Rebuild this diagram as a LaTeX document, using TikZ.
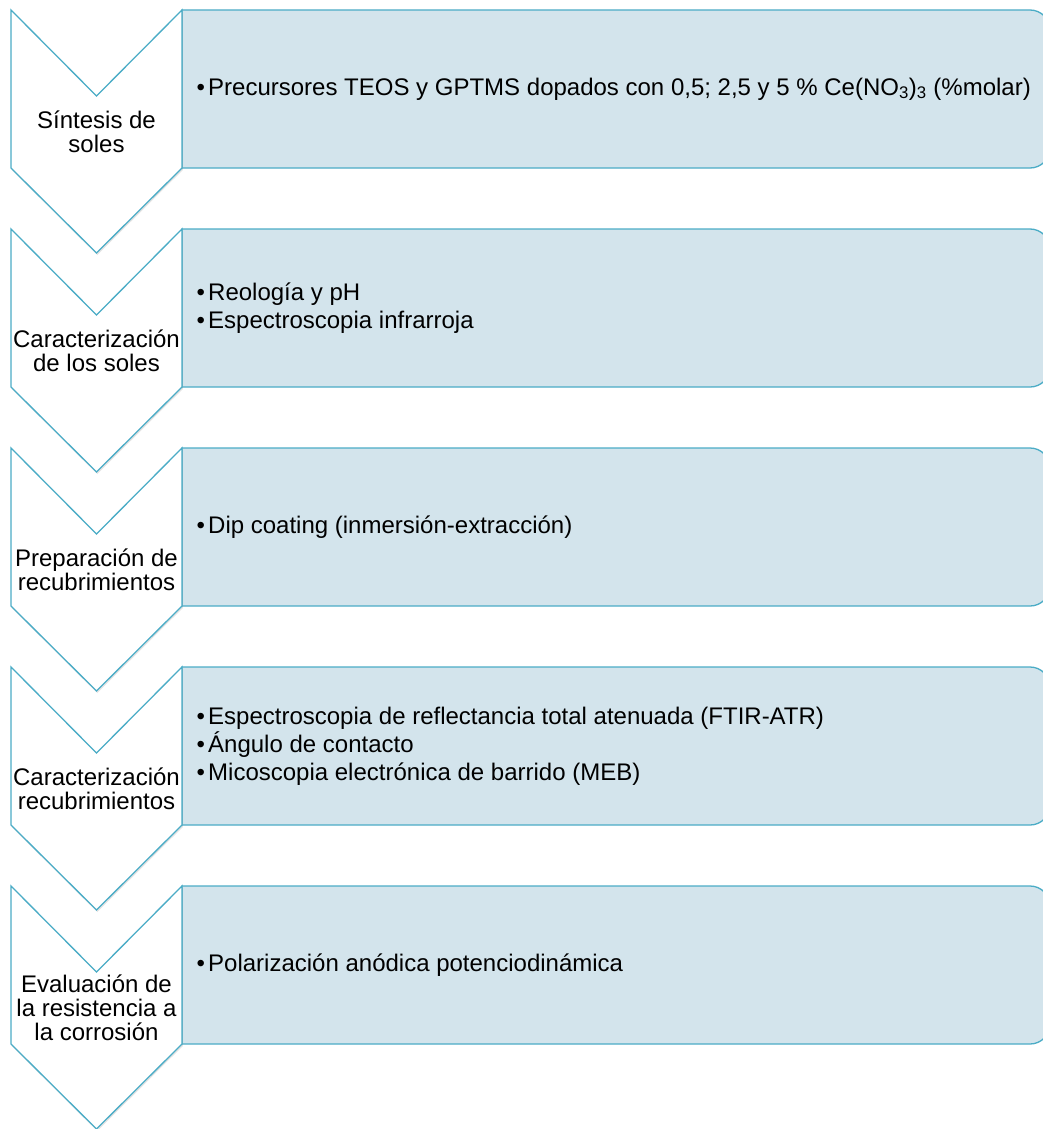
\documentclass[tikz,border=0pt]{standalone}
\usepackage{fontspec}
\setmainfont{Liberation Sans}
\usetikzlibrary{shadows}
\definecolor{edgeblue}{HTML}{4BACC6}
\definecolor{boxfill}{HTML}{D3E4EC}
\tikzset{
  chev/.style={draw=edgeblue, line width=1.3pt, fill=white, line join=miter,
    drop shadow={opacity=0.22, shadow xshift=0.8pt, shadow yshift=-2pt}},
  panel/.style={draw=edgeblue, line width=1.3pt, fill=boxfill},
  lab/.style={align=center, font=\fontsize{24}{24}\selectfont, inner sep=0pt},
  items/.style={align=left, anchor=west, font=\fontsize{24}{28}\selectfont, inner sep=0pt},
}
\newcommand{\bul}{\makebox[11.7pt][l]{•}}
\begin{document}
\begin{tikzpicture}[x=1pt,y=1pt]
\useasboundingbox (0,0) rectangle (1043,-1129);
\clip (0,0) rectangle (1043,-1129);
\foreach \t in {10,229,448,667,886}{
  \path[panel] (182,-\t) -- (1030,-\t) arc[start angle=90,end angle=0,radius=20]
     -- (1050,-\t-138) arc[start angle=0,end angle=-90,radius=20]
     -- (182,-\t-158) -- cycle;
  \path[chev] (11,-\t) -- (96.5,-\t-86) -- (182,-\t) -- (182,-\t-158)
     -- (96.5,-\t-243) -- (11,-\t-158) -- cycle;
}
\node[lab] (c1) at (96.5,-132) {Síntesis de\\soles};
\node[lab] (c2) at (96.5,-351) {Caracterización\\de los soles};
\node[lab] (c3) at (96.5,-570) {Preparación de\\recubrimientos};
\node[lab] (c4) at (96.5,-789) {Caracterización\\recubrimientos};
\node[lab] (c5) at (96.5,-1008) {Evaluación de\\la resistencia a\\la corrosión};
\node[items] (b1) at (196.3,-89) {\bul Precursores TEOS y GPTMS dopados con 0,5; 2,5 y 5 \% Ce(NO\textsubscript{3})\textsubscript{3} (\%molar)};
\node[items] (b2) at (196.3,-308) {\bul Reología y pH\\\bul Espectroscopia infrarroja};
\node[items] (b3) at (196.3,-527) {\bul Dip coating (inmersión-extracción)};
\node[items] (b4) at (196.3,-746) {\bul Espectroscopia de reflectancia total atenuada (FTIR-ATR)\\\bul Ángulo de contacto\\\bul Micoscopia electrónica de barrido (MEB)};
\node[items] (b5) at (196.3,-965) {\bul Polarización anódica potenciodinámica};
\end{tikzpicture}
\end{document}
